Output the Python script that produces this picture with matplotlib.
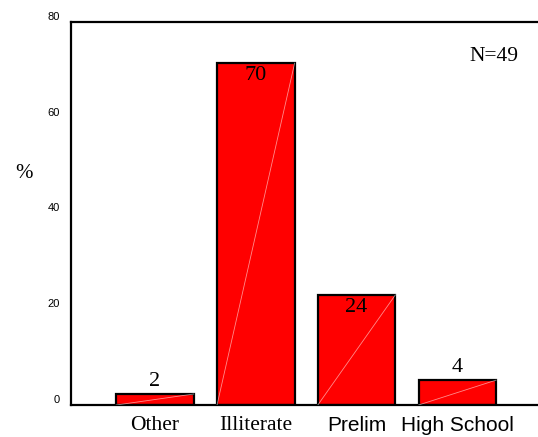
import matplotlib
matplotlib.use("Agg")
import matplotlib.pyplot as plt
import numpy as np

categories = ["Other", "Illiterate", "Prelim", "High School"]
values = [2.3, 71.4, 23.0, 5.2]
value_labels = ["2", "70", "24", "4"]
label_inside = [False, True, True, False]
cat_fonts = ["Liberation Serif", "Liberation Serif", "Liberation Sans", "Liberation Sans"]
cat_sizes = [15.5, 15.5, 15, 15]
yticks = [0, 20, 40, 60, 80]

fig = plt.figure(figsize=(5.38, 4.37), dpi=100)
ax = fig.add_axes([0.132, 0.0732, 0.868, 0.8765])

x = np.arange(len(categories))
w = 0.77
bars = ax.bar(x, values, width=w, color="#ff0000", edgecolor="black", linewidth=1.6, zorder=2)
for xi, v in zip(x, values):
    ax.plot([xi - w / 2, xi + w / 2], [0, v], color="white", lw=0.6, alpha=0.55, zorder=3)

for xi, v, lab, inside in zip(x, values, value_labels, label_inside):
    if inside:
        ax.annotate(lab, (xi, v), xytext=(0, -2), textcoords="offset points",
                    ha="center", va="top", fontsize=16, family="Liberation Serif", zorder=4)
    else:
        ax.annotate(lab, (xi, v), xytext=(0, 2), textcoords="offset points",
                    ha="center", va="bottom", fontsize=16, family="Liberation Serif", zorder=4)

ax.set_xlim(-0.834, 3.80)
ax.set_ylim(0, 80)
ax.set_yticks(yticks)
ax.set_yticklabels([str(t) for t in yticks], fontsize=8, family="Liberation Sans")
ax.tick_params(axis="y", length=0, pad=8)
for lbl in ax.get_yticklabels():
    lbl.set_verticalalignment("bottom")
ax.set_xticks(x)
ax.set_xticklabels(categories)
for lbl, f, s in zip(ax.get_xticklabels(), cat_fonts, cat_sizes):
    lbl.set_family(f)
    lbl.set_fontsize(s)
ax.tick_params(axis="x", length=0, pad=8)

for s in ["left", "top", "bottom"]:
    ax.spines[s].set_linewidth(1.6)
ax.spines["right"].set_visible(False)

fig.text(0.045, 0.604, "%", fontsize=15, family="Liberation Serif", ha="center", va="center")
ax.text(0.906, 0.909, "N=49", transform=ax.transAxes, fontsize=15.5, family="Liberation Serif",
        ha="center", va="center")

fig.savefig("out.png", dpi=100)
